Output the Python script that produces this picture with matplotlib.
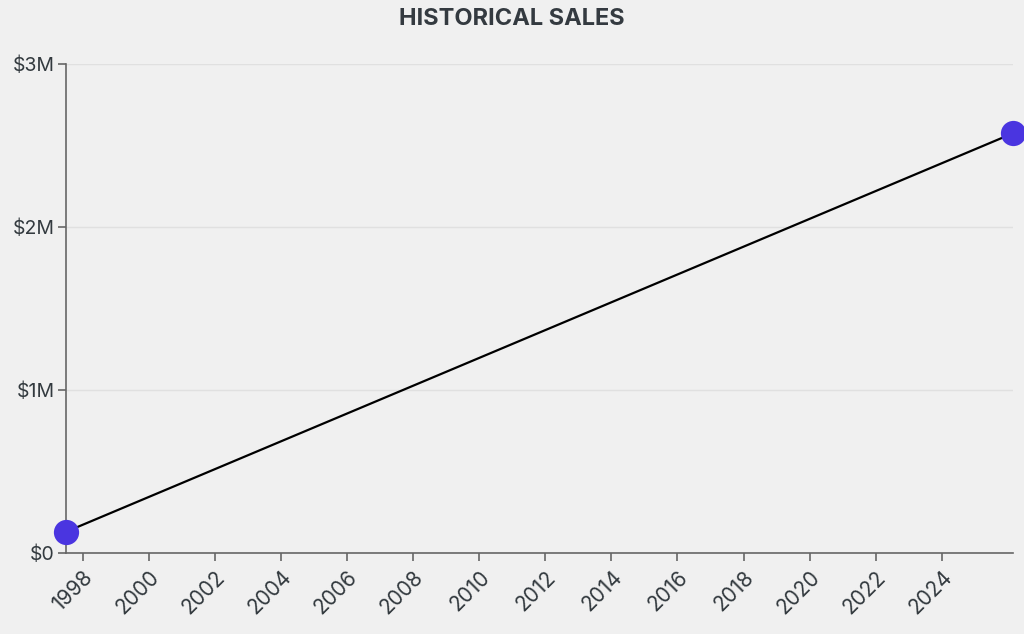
import matplotlib
matplotlib.use("Agg")
import matplotlib.pyplot as plt
import matplotlib.dates as mdates
import matplotlib.ticker as mticker
from datetime import datetime

plt.rcParams['font.family'] = ['Inter', 'DejaVu Sans']

# data
dates = [datetime(1997, 7, 1), datetime(2026, 2, 25)]
sales = [130000, 2575000]
y_ticks = [0, 1000000, 2000000, 3000000]
tick_years = list(range(1998, 2025, 2))

bg = '#f0f0f0'
fig = plt.figure(figsize=(10.24, 6.34), dpi=100, facecolor=bg)
ax = fig.add_axes([66/1024, 81/634, (1013-66)/1024, (553-64)/634])
ax.set_facecolor(bg)

ax.plot(dates, sales, color='black', lw=1.6, zorder=3)
ax.scatter(dates, sales, s=330, color='#4a35e0', zorder=4, clip_on=False, linewidths=0)

ax.set_xlim(dates[0], dates[-1])
ax.set_ylim(0, 3000000)
ax.set_yticks(y_ticks)
ax.yaxis.set_major_formatter(mticker.FuncFormatter(lambda v, p: '$0' if v == 0 else '$%dM' % (v / 1e6)))
ax.set_xticks([datetime(y, 1, 1) for y in tick_years])
ax.xaxis.set_major_formatter(mdates.DateFormatter('%Y'))

ax.grid(axis='y', color='#e0e0e0', lw=1)
ax.set_axisbelow(True)
for s in ['top', 'right']:
    ax.spines[s].set_visible(False)
for s in ['left', 'bottom']:
    ax.spines[s].set_color('#666666')
    ax.spines[s].set_linewidth(1.2)
ax.tick_params(colors='#666666', length=6, width=1.2, labelcolor='#333a3f', labelsize=14)
ax.tick_params(axis='x', labelsize=15, pad=4)
ax.tick_params(axis='y', pad=2)
plt.setp(ax.get_xticklabels(), rotation=45, ha='right', rotation_mode='anchor')

fig.text(0.5, 0.97, 'HISTORICAL SALES', ha='center', va='center', fontsize=17,
         fontweight='bold', color='#343a40')

fig.savefig('out.png', dpi=100, facecolor=bg)
